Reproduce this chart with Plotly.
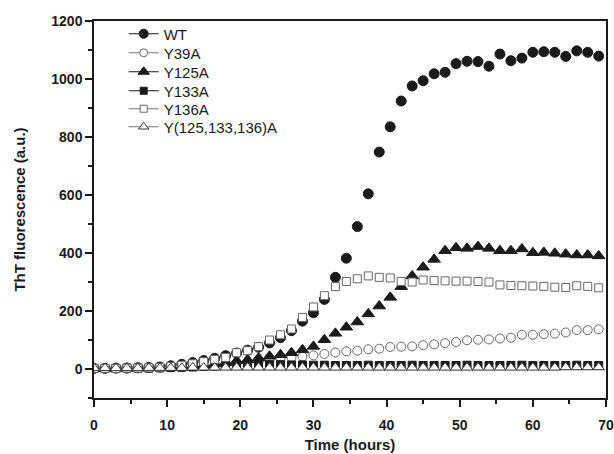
import plotly.graph_objects as go

time_h = [i * 1.5 for i in range(47)]

wt = [2, 2, 3, 3, 4, 5, 7, 11, 16, 22, 29, 37, 46, 55, 65, 75, 90, 108, 132, 165, 194, 240, 316,
      382, 491, 604, 748, 835, 924, 976, 994, 1018, 1023, 1053, 1061, 1060, 1044, 1086, 1063, 1072,
      1092, 1094, 1092, 1078, 1097, 1092, 1079]
y39a = [2, 2, 2, 3, 3, 4, 5, 6, 8, 10, 12, 14, 17, 20, 23, 27, 31, 35, 39, 43, 47, 52, 57,
        61, 63, 68, 70, 76, 77, 78, 82, 85, 89, 93, 99, 101, 102, 105, 108, 118, 118, 120,
        122, 126, 134, 134, 137]
y125a = [2, 2, 2, 3, 3, 4, 5, 6, 8, 10, 13, 17, 22, 28, 32, 38, 44, 49, 56, 66, 78, 101, 123,
         144, 162, 190, 217, 247, 284, 321, 351, 378, 408, 418, 416, 422, 416, 408, 408, 414,
         401, 402, 399, 396, 393, 393, 390]
y133a = [2, 2, 2, 3, 3, 3, 4, 5, 6, 7, 9, 10, 12, 13, 14, 14, 15, 15, 14, 14, 13, 13, 12,
         12, 12, 13, 12, 12, 12, 13, 12, 12, 12, 12, 13, 12, 12, 12, 12, 13, 12, 12,
         12, 12, 13, 12, 12]
y136a = [2, 2, 2, 3, 3, 4, 6, 9, 13, 18, 25, 33, 40, 56, 63, 77, 100, 118, 138, 178, 214, 253, 284,
         302, 311, 321, 316, 314, 302, 300, 307, 305, 304, 303, 303, 302, 300, 290, 288, 287,
         286, 285, 282, 281, 287, 285, 280]
y_triple = [3, 3, 3, 3, 3, 4, 4, 4, 4, 5, 5, 5, 5, 5, 5, 5, 5, 5, 5, 5, 5, 5, 5,
            5, 5, 5, 5, 5, 5, 5, 5, 5, 5, 5, 5, 5, 5, 5, 5, 5, 5, 5,
            5, 6, 6, 6, 6]

series_names = ["WT", "Y39A", "Y125A", "Y133A", "Y136A", "Y(125,133,136)A"]
series_values = [wt, y39a, y125a, y133a, y136a, y_triple]

x_ticks = [0, 10, 20, 30, 40, 50, 60, 70]
y_ticks = [0, 200, 400, 600, 800, 1000, 1200]

styles = [
    dict(symbol="circle", size=10, color="#1a1a1a", line=dict(color="#1a1a1a", width=1), lc="#1a1a1a"),
    dict(symbol="circle", size=9, color="white", line=dict(color="#666666", width=1), lc="#777777"),
    dict(symbol="triangle-up", size=11, color="#1a1a1a", line=dict(color="#1a1a1a", width=1), lc="#1a1a1a"),
    dict(symbol="square", size=8, color="#1a1a1a", line=dict(color="#1a1a1a", width=1), lc="#1a1a1a"),
    dict(symbol="square", size=8, color="white", line=dict(color="#666666", width=1), lc="#777777"),
    dict(symbol="triangle-up", size=10, color="white", line=dict(color="#333333", width=1), lc="#777777"),
]

FONT = "Liberation Sans, Arial, sans-serif"
PLOT_TOP, PLOT_BOTTOM = 21, 398
legend_rows_px = [34, 53, 72, 91, 109, 127]

fig = go.Figure()
for name, vals, st in zip(series_names, series_values, styles):
    fig.add_trace(go.Scatter(
        x=time_h, y=vals, mode="markers", name=name, showlegend=False,
        marker=dict(symbol=st["symbol"], size=st["size"], color=st["color"], line=st["line"]),
    ))

legend_layout = {}
for i, (name, st) in enumerate(zip(series_names, styles)):
    key = "legend" if i == 0 else f"legend{i + 1}"
    fig.add_trace(go.Scatter(
        x=[None], y=[None], mode="lines+markers", name=name, showlegend=True,
        legend=key,
        line=dict(color=st["lc"], width=1),
        marker=dict(symbol=st["symbol"], size=st["size"] - 1, color=st["color"], line=st["line"]),
    ))
    ypaper = (PLOT_BOTTOM - legend_rows_px[i]) / (PLOT_BOTTOM - PLOT_TOP)
    legend_layout[key] = dict(
        x=0.058, y=ypaper, xanchor="left", yanchor="middle",
        bgcolor="rgba(0,0,0,0)", borderwidth=0,
        font=dict(family=FONT, size=15, color="#1a1a1a"),
        itemwidth=30,
    )

fig.update_layout(
    width=614, height=454,
    margin=dict(l=94, r=8, t=PLOT_TOP, b=454 - PLOT_BOTTOM, autoexpand=False),
    paper_bgcolor="white", plot_bgcolor="white",
    font=dict(family=FONT, color="#1a1a1a"),
    hovermode=False,
    xaxis=dict(
        range=[0, 70], tickvals=x_ticks, ticktext=[str(v) for v in x_ticks],
        showgrid=False, zeroline=False, automargin=False,
        showline=True, linecolor="#1a1a1a", linewidth=1.5, mirror=True,
        ticks="outside", ticklen=7, tickwidth=1.5, tickcolor="#1a1a1a",
        minor=dict(dtick=5, tick0=0, ticks="outside", ticklen=4, tickwidth=1.5, tickcolor="#1a1a1a", showgrid=False),
        tickfont=dict(family=FONT, size=14, color="#1a1a1a", weight="bold"),
        ticklabelstandoff=6,
        title=dict(text="<b>Time (hours)</b>", font=dict(family=FONT, size=15, color="#1a1a1a"), standoff=8),
    ),
    yaxis=dict(
        range=[-100, 1200], tickvals=y_ticks, ticktext=[str(v) for v in y_ticks],
        showgrid=False, zeroline=False, automargin=False,
        showline=True, linecolor="#1a1a1a", linewidth=1.5, mirror=True,
        ticks="outside", ticklen=7, tickwidth=1.5, tickcolor="#1a1a1a",
        minor=dict(dtick=100, tick0=0, ticks="outside", ticklen=4, tickwidth=1.5, tickcolor="#1a1a1a", showgrid=False),
        tickfont=dict(family=FONT, size=14, color="#1a1a1a", weight="bold"),
        title=dict(text="<b>ThT fluorescence (a.u.)</b>", font=dict(family=FONT, size=15, color="#1a1a1a"), standoff=22),
    ),
    **legend_layout,
)

fig.write_html("out.html", config={"displayModeBar": False},
               post_script="document.body.style.margin='0';")
